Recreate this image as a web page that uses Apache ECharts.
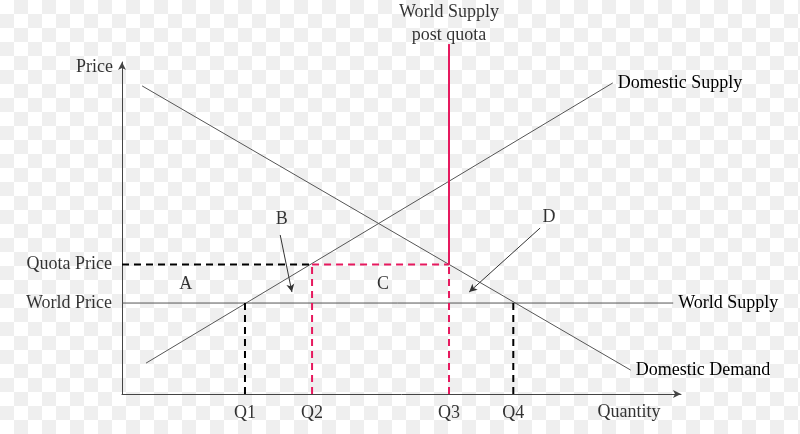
<!DOCTYPE html>
<html>
<head>
<meta charset="utf-8">
<script src="https://cdn.jsdelivr.net/npm/echarts@6/dist/echarts.min.js"></script>
<style>
  html, body {
    margin: 0;
    padding: 0;
  }
  body {
    background-color: #ffffff;
    background-image:
      linear-gradient(45deg, #efefef 25%, transparent 25%, transparent 75%, #efefef 75%),
      linear-gradient(45deg, #efefef 25%, transparent 25%, transparent 75%, #efefef 75%);
    background-size: 28px 28px;
    background-position: 0 0, 14px 14px;
  }
  #chart {
    width: 800px;
    height: 434px;
  }
</style>
</head>
<body>
<div id="chart"></div>
<script>
// quantities / prices (axis 0..100 both ways)
const quantityTicks = ['Q1', 'Q2', 'Q3', 'Q4'];
const quantityValues = [22, 34, 58.5, 70];
const priceTicks = ['World Price', 'Quota Price'];
const priceValues = [27.4, 39];

// curve end points
const demandLine = [[3.6, 92.8], [91, 7.2]];
const supplyLine = [[4.3, 9.3], [87.8, 93.7]];
const worldSupplyLine = [[0, 27.4], [98.6, 27.4]];
const quotaSupplyTop = 105.4;

// area letters and their arrows
const areaNames = ['A', 'B', 'C', 'D'];
const areaPoints = [[11.4, 33.1], [28.6, 52.7], [46.7, 33.1], [76.4, 53.3]];
const arrowB = [[28.3, 47.9], [30.4, 30.7]];
const arrowD = [[74.8, 50], [62.1, 30.7]];

const FONT = 'Liberation Serif';
const PINK = '#e6195e';
const INK = '#000000';
const LINE = '#555555';

const chart = echarts.init(document.getElementById('chart'));

const textStyle = {
  fontFamily: FONT,
  fontSize: 18,
  color: INK
};

function plainLine(name, data, endText) {
  return {
    name: name,
    type: 'line',
    data: data,
    symbol: 'none',
    silent: true,
    lineStyle: { color: LINE, width: 1 },
    endLabel: endText ? Object.assign({
      show: true,
      formatter: endText,
      distance: 5
    }, textStyle) : { show: false }
  };
}

function dashLine(name, data, color) {
  return {
    name: name,
    type: 'line',
    data: data,
    symbol: 'none',
    silent: true,
    lineStyle: { color: color, width: 2, type: [7, 5] }
  };
}

function textPoints(name, data, position, distance, extra) {
  return {
    name: name,
    type: 'scatter',
    symbolSize: 0,
    silent: true,
    data: data,
    label: Object.assign({
      show: true,
      position: position,
      distance: distance,
      formatter: function (p) { return p.data[2]; }
    }, textStyle, extra || {})
  };
}

const q = quantityValues;
const p = priceValues;

const option = {
  animation: false,
  backgroundColor: 'transparent',
  grid: { left: 122, right: 119, top: 62, bottom: 40 },
  xAxis: {
    type: 'value',
    min: 0,
    max: 100,
    axisLine: {
      show: true,
      symbol: ['none', 'arrow'],
      symbolSize: [6, 8],
      lineStyle: { color: '#444', width: 1 }
    },
    axisTick: { show: false },
    axisLabel: { show: false },
    splitLine: { show: false }
  },
  yAxis: {
    type: 'value',
    min: 0,
    max: 100,
    axisLine: {
      show: true,
      symbol: ['none', 'arrow'],
      symbolSize: [6, 8],
      lineStyle: { color: '#444', width: 1 }
    },
    axisTick: { show: false },
    axisLabel: { show: false },
    splitLine: { show: false }
  },
  series: [
    plainLine('demand', demandLine, 'Domestic Demand'),
    plainLine('supply', supplyLine, 'Domestic Supply'),
    plainLine('world', worldSupplyLine, 'World Supply'),

    dashLine('quotaPriceBlack', [[0, p[1]], [q[1], p[1]]], INK),
    dashLine('quotaPricePink', [[q[1], p[1]], [q[2], p[1]]], PINK),
    dashLine('q1', [[q[0], 0], [q[0], p[0]]], INK),
    dashLine('q2', [[q[1], 0], [q[1], p[1]]], PINK),
    dashLine('q3', [[q[2], 0], [q[2], p[1]]], PINK),
    dashLine('q4', [[q[3], 0], [q[3], p[0]]], INK),

    {
      name: 'quotaSupply',
      type: 'line',
      data: [[q[2], p[1]], [q[2], quotaSupplyTop]],
      symbol: 'none',
      silent: true,
      clip: false,
      lineStyle: { color: PINK, width: 2 },
      markLine: {
        silent: true,
        animation: false,
        label: { show: false },
        lineStyle: { color: '#333', width: 1, type: 'solid' },
        symbol: ['none', 'arrow'],
        symbolSize: [6, 8],
        data: [
          [{ coord: arrowB[0] }, { coord: arrowB[1] }],
          [{ coord: arrowD[0] }, { coord: arrowD[1] }]
        ]
      }
    },

    textPoints('quantityTicks', quantityTicks.map((t, i) => [q[i], 0, t]), 'bottom', 10),
    textPoints('priceTicks', priceTicks.map((t, i) => [0, p[i], t]), 'left', 10),
    textPoints('axisNames', [[90.7, 0, 'Quantity']], 'bottom', 9),
    textPoints('yName', [[0, 98.5, 'Price']], 'left', 9),
    textPoints('areas', areaNames.map((t, i) => [areaPoints[i][0], areaPoints[i][1], t]), 'inside', 0),
    Object.assign(
      textPoints('postQuota', [[q[2], quotaSupplyTop, 'World Supply\npost quota']], 'top', -3, { lineHeight: 23, align: 'center' }),
      { clip: false }
    )
  ]
};

chart.setOption(option);
</script>
</body>
</html>
